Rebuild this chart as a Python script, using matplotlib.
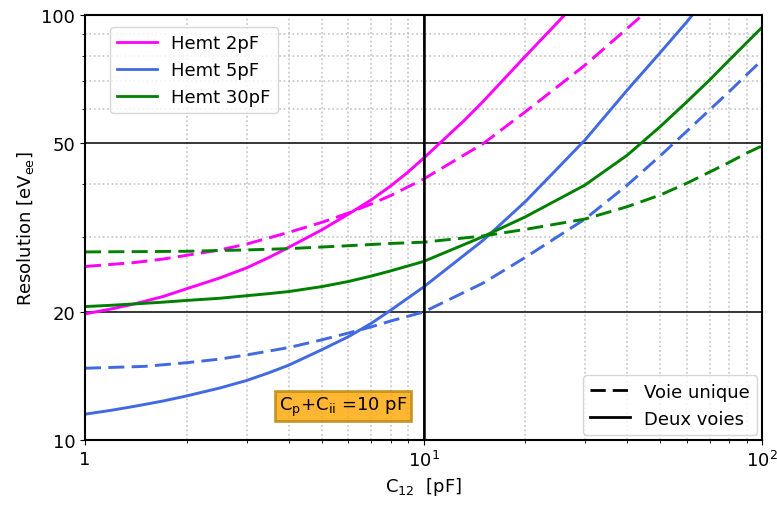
import matplotlib
matplotlib.use("Agg")
import matplotlib.pyplot as plt
from matplotlib.lines import Line2D
from matplotlib.ticker import FixedLocator, FixedFormatter, NullFormatter

# values, C12 in pF, resolution in eVee
# Hemt 2pF
m2_two_x = [1, 1.2, 1.4, 1.7, 2, 2.5, 3, 3.5, 4, 5, 6, 7, 8, 9, 10, 13.2, 15, 20, 25, 26.1]
m2_two_y = [19.8, 20.35, 20.9, 21.75, 22.7, 24.05, 25.4, 26.9, 28.4, 31.2, 34.0, 36.7, 39.6,
            42.7, 46.0, 56.5, 62.6, 80.0, 96.4, 100]
m2_one_x = [1, 1.4, 1.7, 2, 2.5, 3, 4, 5, 6, 7, 8, 10, 15, 20, 30, 40, 44.4]
m2_one_y = [25.6, 26.15, 26.65, 27.2, 28.0, 28.9, 30.8, 32.5, 34.2, 35.9, 37.6, 41.1, 49.8,
            59.2, 76.2, 93.0, 100]

# Hemt 5pF
b5_two_x = [1, 1.2, 1.4, 1.7, 2, 2.5, 3, 3.5, 4, 5, 6, 7, 8, 10, 15, 20, 30, 40, 50, 60, 62.3]
b5_two_y = [11.5, 11.75, 12.0, 12.35, 12.7, 13.25, 13.8, 14.4, 15.0, 16.3, 17.5, 18.8, 20.2,
            22.9, 29.5, 36.4, 50.8, 66.6, 81.5, 96.4, 100]
b5_one_x = [1, 1.5, 2, 2.5, 3, 4, 5, 6, 7, 8, 10, 15, 20, 30, 40, 50, 60, 70, 80, 90, 100]
b5_one_y = [14.75, 14.9, 15.2, 15.5, 15.85, 16.5, 17.2, 17.85, 18.45, 19.05, 20.0, 23.4, 26.9,
            33.1, 39.8, 46.6, 53.3, 59.8, 66.0, 72.3, 78.3]

# Hemt 30pF
g30_two_x = [1, 1.2, 1.4, 1.7, 2, 2.5, 3, 3.5, 4, 5, 6, 7, 8, 10, 15, 20, 30, 40, 50, 60, 70,
             80, 90, 100]
g30_two_y = [20.6, 20.75, 20.9, 21.1, 21.3, 21.55, 21.85, 22.1, 22.35, 22.95, 23.6, 24.3, 25.0,
             26.3, 30.1, 33.5, 39.8, 46.8, 54.6, 62.5, 70.3, 78.3, 86.0, 93.5]
g30_one_x = [1, 1.5, 2, 3, 4, 6, 8, 10, 15, 20, 30, 40, 50, 60, 70, 80, 90, 100]
g30_one_y = [27.7, 27.75, 27.8, 28.0, 28.2, 28.65, 29.0, 29.2, 30.2, 31.3, 33.1, 35.4, 37.7,
             40.2, 42.7, 45.0, 47.3, 49.2]

colors = ["magenta", "royalblue", "green"]
names = ["Hemt 2pF", "Hemt 5pF", "Hemt 30pF"]
two_ways = [(m2_two_x, m2_two_y), (b5_two_x, b5_two_y), (g30_two_x, g30_two_y)]
one_way = [(m2_one_x, m2_one_y), (b5_one_x, b5_one_y), (g30_one_x, g30_one_y)]

dash = (0, (5.5, 2.5))
fs = 13

fig = plt.figure(figsize=(7.77, 5.06), dpi=100)
ax = fig.add_axes([0.1094, 0.1285, 0.8713, 0.8399])

for col, (x2, y2), (x1, y1) in zip(colors, two_ways, one_way):
    ax.plot(x2, y2, color=col, lw=2.1, ls="-")
    ax.plot(x1, y1, color=col, lw=2.1, ls=dash)

ax.set_xscale("log")
ax.set_yscale("log")
ax.set_xlim(1, 100)
ax.set_ylim(10, 100)

ax.xaxis.set_major_locator(FixedLocator([1, 10, 100]))
ax.xaxis.set_major_formatter(FixedFormatter(["1", r"$10^1$", r"$10^2$"]))
ax.xaxis.set_minor_formatter(NullFormatter())
ax.yaxis.set_major_locator(FixedLocator([10, 20, 50, 100]))
ax.yaxis.set_major_formatter(FixedFormatter(["10", "20", "50", "100"]))
ax.yaxis.set_minor_locator(FixedLocator([30, 40, 60, 70, 80, 90]))
ax.yaxis.set_minor_formatter(NullFormatter())
ax.tick_params(labelsize=fs)

ax.grid(True, which="major", color="black", lw=1.1)
ax.grid(True, which="minor", color="#c4c4c4", ls=":", lw=1.2)
ax.axvline(10, color="black", lw=1.8)
for s in ax.spines.values():
    s.set_linewidth(1.5)

ax.set_xlabel(r"C$_\mathrm{12}$  [pF]", fontsize=fs)
ax.set_ylabel(r"Resolution [eV$_\mathrm{ee}$]", fontsize=fs)

h1 = [Line2D([], [], color=c, lw=2) for c in colors]
leg1 = ax.legend(h1, names, loc="upper left", bbox_to_anchor=(0.037, 0.972),
                 borderaxespad=0, fontsize=fs, handlelength=2.2)
ax.add_artist(leg1)
h2 = [Line2D([], [], color="black", lw=2, ls=dash),
      Line2D([], [], color="black", lw=2)]
ax.legend(h2, ["Voie unique", "Deux voies"], loc="lower right",
          bbox_to_anchor=(0.993, 0.012), borderaxespad=0, fontsize=fs,
          handlelength=2.2)

ax.text(0.381, 0.08, r"C$_\mathrm{p}$+C$_\mathrm{ii}$ =10 pF", transform=ax.transAxes,
        ha="center", va="center", fontsize=fs,
        bbox=dict(boxstyle="square,pad=0.2", facecolor="orange", alpha=0.8,
                  edgecolor="darkgoldenrod", lw=2))

fig.savefig("out.png", dpi=100)
